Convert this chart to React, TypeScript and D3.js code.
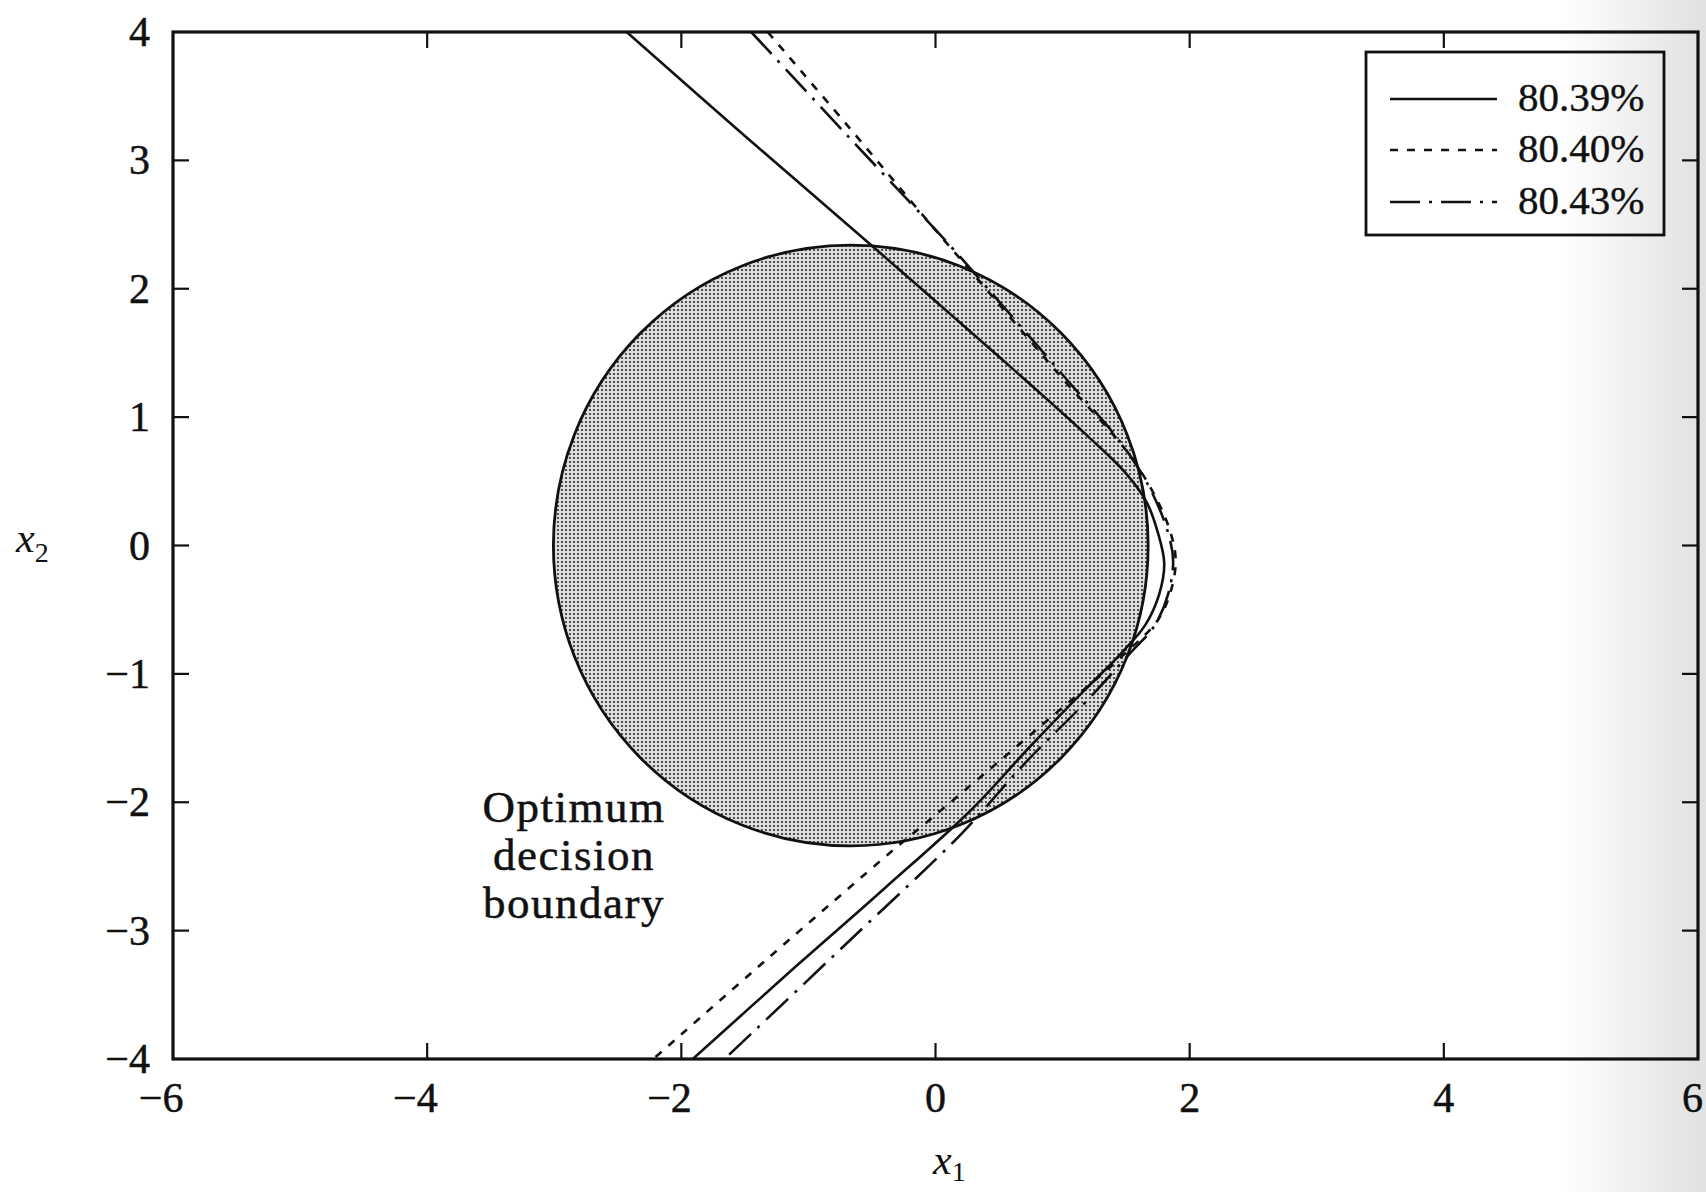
import React from "react";
import * as d3 from "d3";

// Axis ticks
const X_TICKS = [-6, -4, -2, 0, 2, 4, 6];
const Y_TICKS = [-4, -3, -2, -1, 0, 1, 2, 3, 4];

// Optimum (Bayes) decision boundary: circle centred at (-2/3, 0)
const OPTIMUM_CENTER: [number, number] = [-2 / 3, 0];
const OPTIMUM_RADIUS = 2.34;

// Decision boundaries learned by the network, as (x1, x2) points
const boundary8039: [number, number][] = [
  [-2.43, 4.0], [-1.5, 3.19], [-0.53, 2.36], [0.5, 1.47], [1.2, 0.85],
  [1.5, 0.56], [1.66, 0.34], [1.75, 0.1], [1.8, -0.14], [1.76, -0.38],
  [1.65, -0.62], [1.48, -0.82], [1.15, -1.15], [0.75, -1.56], [0.27, -2.07],
  [-0.4, -2.67], [-1.1, -3.28], [-1.91, -4.0],
];
const boundary8040: [number, number][] = [
  [-1.32, 4.0], [-0.7, 3.28], [-0.08, 2.55], [0.31, 2.1], [1.0, 1.3],
  [1.5, 0.74], [1.72, 0.4], [1.85, 0.1], [1.89, -0.12], [1.85, -0.36],
  [1.75, -0.58], [1.47, -0.86], [0.8, -1.43], [-0.05, -2.14],
  [-0.33, -2.37], [-1.3, -3.2], [-2.22, -4.0],
];
const boundary8043: [number, number][] = [
  [-1.45, 4.0], [-0.7, 3.2], [0.12, 2.33], [0.5, 1.9], [1.0, 1.33],
  [1.49, 0.76], [1.7, 0.42], [1.83, 0.1], [1.87, -0.12], [1.83, -0.38],
  [1.72, -0.63], [1.53, -0.84], [1.2, -1.2], [0.7, -1.7], [0.2, -2.25],
  [-0.7, -3.1], [-1.66, -4.0],
];

const SERIES_LABELS = ["80.39%", "80.40%", "80.43%"];
const SERIES_DASH = ["none", "8,9", "30,9,3,9"];
const SERIES_POINTS = [boundary8039, boundary8040, boundary8043];

const W = 1706;
const H = 1192;
const FONT = "'Liberation Serif', 'Times New Roman', serif";
const INK = "#111";

const fmt = (v: number) => (v < 0 ? "\u2212" + Math.abs(v) : String(v));

export default function App() {
  const x = d3.scaleLinear().domain([-6, 6]).range([173, 1698]);
  const y = d3.scaleLinear().domain([-4, 4]).range([1059, 32]);

  const line = d3
    .line<[number, number]>()
    .x((d) => x(d[0]))
    .y((d) => y(d[1]))
    .curve(d3.curveCatmullRom.alpha(0.5));

  const x0 = x(-6), x1 = x(6), yTop = y(4), yBot = y(-4);
  const tick = 16;
  const fs = 42;

  const cx = x(OPTIMUM_CENTER[0]);
  const cy = y(OPTIMUM_CENTER[1]);
  const rx = x(OPTIMUM_RADIUS) - x(0);
  const ry = y(0) - y(OPTIMUM_RADIUS);

  // legend geometry
  const lg = { x: 1366, y: 52, w: 298, h: 183 };
  const legendRows = [99, 150, 202];

  return (
    <svg
      width={W}
      height={H}
      style={{ position: "absolute", left: 0, top: 0, background: "#fff" }}
    >
      <defs>
        <pattern id="halftone" width="4" height="4" patternUnits="userSpaceOnUse">
          <rect width="4" height="4" fill="#dedede" />
          <circle cx="2" cy="2" r="1.1" fill="#2e2e2e" />
        </pattern>
        <linearGradient id="gutter" x1="0" x2="1" y1="0" y2="0">
          <stop offset="0" stopColor="#000" stopOpacity="0" />
          <stop offset="1" stopColor="#000" stopOpacity="0.12" />
        </linearGradient>
        <clipPath id="plotArea">
          <rect x={x0} y={yTop} width={x1 - x0} height={yBot - yTop} />
        </clipPath>
      </defs>

      {/* optimum decision boundary */}
      <ellipse
        cx={cx}
        cy={cy}
        rx={rx}
        ry={ry}
        fill="url(#halftone)"
        stroke={INK}
        strokeWidth={2.8}
      />

      {/* learned boundaries */}
      <g clipPath="url(#plotArea)" fill="none" stroke={INK}>
        {SERIES_POINTS.map((pts, i) => (
          <path
            key={SERIES_LABELS[i]}
            d={line(pts) || ""}
            strokeWidth={2.6}
            strokeDasharray={SERIES_DASH[i]}
          />
        ))}
      </g>

      {/* frame */}
      <rect
        x={x0}
        y={yTop}
        width={x1 - x0}
        height={yBot - yTop}
        fill="none"
        stroke={INK}
        strokeWidth={3.2}
      />

      {/* ticks on all four sides, pointing inward */}
      <g stroke={INK} strokeWidth={2.2}>
        {X_TICKS.filter((v) => v > -6 && v < 6).map((v) => (
          <g key={"xt" + v}>
            <line x1={x(v)} x2={x(v)} y1={yBot} y2={yBot - tick} />
            <line x1={x(v)} x2={x(v)} y1={yTop} y2={yTop + tick} />
          </g>
        ))}
        {Y_TICKS.filter((v) => v > -4 && v < 4).map((v) => (
          <g key={"yt" + v}>
            <line x1={x0} x2={x0 + tick} y1={y(v)} y2={y(v)} />
            <line x1={x1} x2={x1 - tick} y1={y(v)} y2={y(v)} />
          </g>
        ))}
      </g>

      {/* tick labels */}
      <g fontFamily={FONT} fontSize={fs} fill={INK} stroke={INK} strokeWidth={0.5}>
        {X_TICKS.map((v) => (
          <text
            key={"xl" + v}
            x={Math.min(x(v) + fs * 0.25, W - 3)}
            y={1112}
            textAnchor="end"
          >
            {fmt(v)}
          </text>
        ))}
        {Y_TICKS.map((v) => (
          <text key={"yl" + v} x={150} y={y(v) + 14} textAnchor="end">
            {fmt(v)}
          </text>
        ))}
      </g>

      {/* axis titles */}
      <text x={933} y={1174} fontFamily={FONT} fontSize={42} fill={INK}>
        <tspan fontStyle="italic">x</tspan>
        <tspan fontSize={28} dy={7}>1</tspan>
      </text>
      <text x={16} y={552} fontFamily={FONT} fontSize={42} fill={INK}>
        <tspan fontStyle="italic">x</tspan>
        <tspan fontSize={28} dy={10}>2</tspan>
      </text>

      {/* annotation */}
      <g
        fontFamily={FONT}
        fontSize={45}
        fill={INK}
        stroke={INK}
        strokeWidth={0.5}
        textAnchor="middle"
        letterSpacing={1.5}
      >
        <text x={574} y={822}>Optimum</text>
        <text x={574} y={870}>decision</text>
        <text x={574} y={918}>boundary</text>
      </g>

      {/* legend */}
      <g>
        <rect
          x={lg.x}
          y={lg.y}
          width={lg.w}
          height={lg.h}
          fill="#fff"
          stroke={INK}
          strokeWidth={2.8}
        />
        {SERIES_LABELS.map((lab, i) => (
          <g key={lab}>
            <line
              x1={1390}
              x2={1497}
              y1={legendRows[i]}
              y2={legendRows[i]}
              stroke={INK}
              strokeWidth={2.6}
              strokeDasharray={SERIES_DASH[i]}
            />
            <text
              x={1518}
              y={legendRows[i] + 12}
              fontFamily={FONT}
              fontSize={41}
              fill={INK}
              stroke={INK}
              strokeWidth={0.4}
            >
              {lab}
            </text>
          </g>
        ))}
      </g>

      {/* page shading toward the binding */}
      <rect x={1560} y={0} width={W - 1560} height={H} fill="url(#gutter)" pointerEvents="none" />
    </svg>
  );
}
